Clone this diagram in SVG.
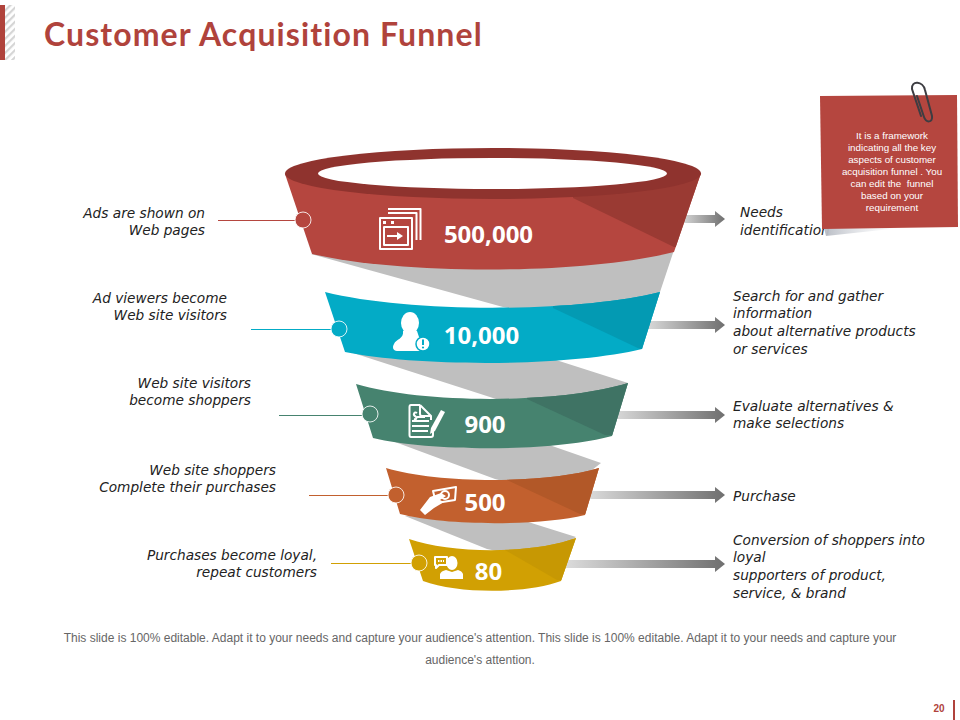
<svg xmlns="http://www.w3.org/2000/svg" width="960" height="720" viewBox="0 0 960 720">
<style>
.title{font:700 32px "Lato","Liberation Sans",sans-serif;fill:#b0433c;letter-spacing:1.1px}
.lab{font:italic 200 13.700px "DejaVu Sans ExtraLight","DejaVu Sans","Liberation Sans",sans-serif;fill:#222}
.r{text-anchor:end}
.num{font:700 24px "Noto Sans","Liberation Sans",sans-serif;fill:#fff;text-anchor:middle}
.foot{font:12px "Liberation Sans",sans-serif;fill:#666;text-anchor:middle}
.note{font:9.800px "Liberation Sans",sans-serif;fill:#fff;text-anchor:middle;white-space:pre}
.pg{font:700 10px "Liberation Sans",sans-serif;fill:#b0433c;text-anchor:middle}
.sh{fill:#bfbfbf}
.dot{stroke:#fff;stroke-width:1;stroke-opacity:.85}
.ic{fill:none;stroke:#fff;stroke-width:2;stroke-linejoin:round}
.if{fill:#fff}
</style>
<defs>
<linearGradient id="ag"><stop offset="0" stop-color="#dcdcdc"/><stop offset="1" stop-color="#6f6f6f"/></linearGradient>
<linearGradient id="sg"><stop offset="0" stop-color="#b8bcc4"/><stop offset="1" stop-color="#e8eaee" stop-opacity="0"/></linearGradient>
<pattern id="hatch" width="5" height="5" patternUnits="userSpaceOnUse" patternTransform="rotate(-45)"><rect width="5" height="5" fill="#fff"/><rect width="5" height="2.200" fill="#d5d5d5"/></pattern>
<clipPath id="c1"><path id="b1" d="M285,174L312,254C402,275 584,275 674,252L701,173Z"/></clipPath>
<clipPath id="c2"><path id="b2" d="M325,292C409,313 576,313 660,292L642,349C568,367 419,367 345,352Z"/></clipPath>
<clipPath id="c3"><path id="b3" d="M356,384C424,404 560,404 628,383L612,436C552,452 433,452 373,438Z"/></clipPath>
<clipPath id="c4"><path id="b4" d="M386,468C439,484 546,484 599,468L585,515C539,526 446,526 400,514Z"/></clipPath>
<clipPath id="c5"><path id="b5" d="M409,539C451,554 534,554 576,538L561,581C526,594 458,594 423,581Z"/></clipPath>
</defs>

<g id="header">
<rect x="0" y="5" width="5" height="55" fill="#b0433c"/>
<rect x="5" y="5" width="10" height="55" fill="url(#hatch)"/>
<text class="title" x="44" y="46">Customer Acquisition Funnel</text>
</g>

<g id="connectors">
<path fill="url(#ag)" d="M680,215H715V211L725,219L715,227V223H680Z"/>
<path fill="url(#ag)" d="M645,321H715V317L725,325L715,333V329H645Z"/>
<path fill="url(#ag)" d="M612,411H715V407L725,415L715,423V419H612Z"/>
<path fill="url(#ag)" d="M586,491H715V487L725,495L715,503V499H586Z"/>
<path fill="url(#ag)" d="M565,560H715V556L725,564L715,572V568H565Z"/>
<line x1="218" y1="220.500" x2="296" y2="220.500" stroke="#b5463f"/>
<line x1="251" y1="329.500" x2="332" y2="329.500" stroke="#03abc6"/>
<line x1="279" y1="415.500" x2="363" y2="415.500" stroke="#46836f"/>
<line x1="309" y1="495.500" x2="389" y2="495.500" stroke="#c2602e"/>
<line x1="331" y1="563.500" x2="412" y2="563.500" stroke="#d1a003"/>
</g>

<g id="shadows">
<path class="sh" d="M311,254L503,307L600,325L660,292L674,250Z"/>
<path class="sh" d="M350,352L493,398L560,420L628,383L556,360Z"/>
<path class="sh" d="M395,442L495,479L560,495L601,463L535,440Z"/>
<path class="sh" d="M405,516L487,549L540,560L576,537L525,521Z"/>
</g>

<g id="stage-1">
<use href="#b1" fill="#b5463f"/>
<path fill="#9a3a33" clip-path="url(#c1)" d="M573,198L674,247L710,247V160H573Z"/>
<ellipse cx="493" cy="173.500" rx="208" ry="25.500" fill="#8f332e"/>
<ellipse cx="492.500" cy="173.500" rx="174.500" ry="15.500" fill="#fff"/>
<circle class="dot" cx="303" cy="220" r="8" fill="#b5463f"/>
<g>
<path class="ic" d="M388,209H420.500V240"/>
<path class="ic" d="M388,213H416.500V240" stroke-width="1"/>
<rect x="380" y="218" width="32" height="31" class="ic" stroke-width="2.500"/>
<rect x="383" y="221" width="3" height="3" class="if"/><rect x="391" y="221" width="3" height="3" class="if"/>
<rect x="384" y="227" width="24" height="18" class="ic" stroke-width="1.500"/>
<path class="if" d="M387,235H397V232L403,236L397,240V237H387Z"/>
</g>
<text class="num" x="488.500" y="243">500,000</text>
<text class="lab r" x="205" y="218">Ads are shown on</text>
<text class="lab r" x="205" y="235">Web pages</text>
<text class="lab" x="740" y="217">Needs</text>
<text class="lab" x="740" y="235">identification</text>
</g>

<g id="stage-2">
<use href="#b2" fill="#03abc6"/>
<path fill="#039ab3" clip-path="url(#c2)" d="M553,308L640,349L680,349V280H553Z"/>
<circle class="dot" cx="339" cy="329" r="8" fill="#03abc6"/>
<g>
<ellipse class="if" cx="410" cy="323" rx="9" ry="11"/>
<path class="if" d="M403,331L417,331L419,337L428,341L424,351H397C393,351 392,347 394,344C396,339 404,339 403,331Z"/>
<circle cx="423" cy="344" r="7" fill="#fff" stroke="#03abc6" stroke-width="1.500"/>
<rect x="422" y="339.500" width="2" height="5.500" fill="#03abc6"/><circle cx="423" cy="347.500" r="1.100" fill="#03abc6"/>
</g>
<text class="num" x="481.500" y="344">10,000</text>
<text class="lab r" x="227" y="303">Ad viewers become</text>
<text class="lab r" x="227" y="320">Web site visitors</text>
<text class="lab" x="733" y="301">Search for and gather</text>
<text class="lab" x="733" y="318">information</text>
<text class="lab" x="733" y="336">about alternative products</text>
<text class="lab" x="733" y="354">or services</text>
</g>

<g id="stage-3">
<use href="#b3" fill="#46836f"/>
<path fill="#3f7364" clip-path="url(#c3)" d="M527,399L605,435L640,436V370H527Z"/>
<circle class="dot" cx="370" cy="414" r="8" fill="#46836f"/>
<g>
<path class="ic" d="M420,405H411Q409.500,405 409.500,407V435Q409.500,437 411,437H431Q433,437 433,435V430M420,405L431,416V420M420,405V414Q420,416 422,416H431" stroke-width="1.500"/>
<path class="ic" d="M417,413C414,411 413,415 415,416C417,417 417,420 414,419" stroke-width="1"/>
<path class="ic" d="M412,421H429M412,426H429M412,431H428M417,417H425" stroke-width="1.500"/>
<path class="if" d="M441,410L445,412L435,431L430,434L431,428Z"/>
</g>
<text class="num" x="485" y="433">900</text>
<text class="lab r" x="251" y="388">Web site visitors</text>
<text class="lab r" x="251" y="405">become shoppers</text>
<text class="lab" x="733" y="411">Evaluate alternatives &amp;</text>
<text class="lab" x="733" y="428">make selections</text>
</g>

<g id="stage-4">
<use href="#b4" fill="#c2602e"/>
<path fill="#b25828" clip-path="url(#c4)" d="M507,480L580,514L620,515V450H507Z"/>
<circle class="dot" cx="396" cy="495" r="8" fill="#c2602e"/>
<g>
<path class="ic" d="M433,491L456,487L455,500L436,503Z" stroke-width="1.500"/>
<circle class="ic" cx="445" cy="495" r="4" stroke-width="1.500"/>
<path class="if" d="M420,510L430,497L441,493L446,496L440,500L444,502L434,508L425,515Z"/>
</g>
<text class="num" x="485" y="511">500</text>
<text class="lab r" x="276" y="475">Web site shoppers</text>
<text class="lab r" x="276" y="492">Complete their purchases</text>
<text class="lab" x="733" y="501">Purchase</text>
</g>

<g id="stage-5">
<use href="#b5" fill="#d1a003"/>
<path fill="#c79803" clip-path="url(#c5)" d="M505,550L557,580L590,581V530H505Z"/>
<circle class="dot" cx="419" cy="563" r="8" fill="#d1a003"/>
<g>
<path class="ic" d="M435,557H447V565H439L436,568V565H435Z" stroke-width="1"/>
<path class="ic" d="M438,561H444" stroke-width="1" stroke-dasharray="1.500 1"/>
<ellipse class="if" cx="452" cy="563" rx="5.500" ry="7"/>
<path class="if" d="M440,579V574Q441,571 446,570L452,572L458,570Q462,571 463,574V579Z"/>
</g>
<text class="num" x="488.500" y="580">80</text>
<text class="lab r" x="317" y="560">Purchases become loyal,</text>
<text class="lab r" x="317" y="577">repeat customers</text>
<text class="lab" x="733" y="545">Conversion of shoppers into</text>
<text class="lab" x="733" y="562">loyal</text>
<text class="lab" x="733" y="580">supporters of product,</text>
<text class="lab" x="733" y="598">service, &amp; brand</text>
</g>

<g id="note">
<path fill="url(#sg)" d="M824,228L900,228L826,236Z"/>
<path fill="#b5463f" d="M820,96L957,95L958,227L822,229Z"/>
<path fill="none" stroke="#3d3d42" stroke-width="2" stroke-linecap="round" d="M917,96L924,117C926,123 933,123 932,116L925,90C923,81 911,80 912,89L921,116"/>
<text class="note" x="892" y="139">It is a framework</text>
<text class="note" x="892" y="151">indicating all the key</text>
<text class="note" x="892" y="163">aspects of customer</text>
<text class="note" x="892" y="175">acquisition funnel . You</text>
<text class="note" x="892" y="187">can edit the  funnel</text>
<text class="note" x="892" y="199">based on your</text>
<text class="note" x="892" y="211">requirement</text>
</g>

<g id="footer">
<text class="foot" x="480" y="642">This slide is 100% editable. Adapt it to your needs and capture your audience's attention. This slide is 100% editable. Adapt it to your needs and capture your</text>
<text class="foot" x="480" y="664">audience's attention.</text>
<text class="pg" x="939" y="712">20</text>
<rect x="953" y="700" width="2" height="20" fill="#b0433c"/>
</g>
</svg>
